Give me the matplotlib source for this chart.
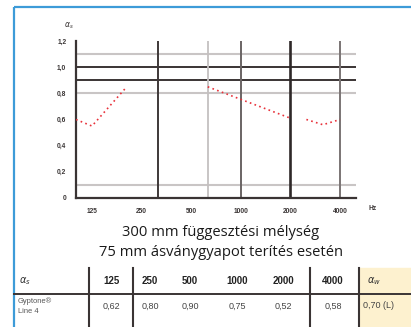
import matplotlib

matplotlib.use("Agg")
import matplotlib.pyplot as plt
from matplotlib.patches import Rectangle

# curve (Hz, alpha_s), three separate pieces
seg1_freq = [100, 125, 200]
seg1_alpha = [0.60, 0.55, 0.84]
seg2_freq = [630, 2000]
seg2_alpha = [0.85, 0.61]
seg3_freq = [2500, 3150, 4000]
seg3_alpha = [0.60, 0.56, 0.60]

x_ticks = [125, 250, 500, 1000, 2000, 4000]
x_tick_labels = ["125", "250", "500", "1000", "2000", "4000"]
y_ticks = [0, 0.2, 0.4, 0.6, 0.8, 1.0, 1.2]
y_tick_labels = ["0", "0,2", "0,4", "0,6", "0,8", "1,0", "1,2"]

# reference lines: (value, dark?)
h_lines = [(1.1, False), (1.0, True), (0.9, True), (0.8, False), (0.1, False)]
v_lines = [(315, "#3e3838", 1.4), (630, "#c4c0c0", 1.3), (1000, "#6a6464", 1.4),
           (2000, "#2e2828", 1.9), (4000, "#7a7474", 1.4)]

caption = ["300 mm függesztési mélység", "75 mm ásványgyapot terítés esetén"]

table_bands = ["125", "250", "500", "1000", "2000", "4000"]
table_values = ["0,62", "0,80", "0,90", "0,75", "0,52", "0,58"]
table_product = "Gyptone®\nLine 4"
table_alpha_w = "0,70 (L)"

W, H = 411, 327
DARK = "#3a3434"
LIGHT = "#c9c5c5"
BLUE = "#3d9bd8"
RED = "#e8313a"

fig = plt.figure(figsize=(W / 100, H / 100), dpi=100)

# background layer in pixel coordinates
bg = fig.add_axes([0, 0, 1, 1])
bg.set_xlim(0, W)
bg.set_ylim(H, 0)
bg.axis("off")

bg.plot([14, 14], [7, H], color=BLUE, lw=1.6, solid_capstyle="butt")
bg.plot([14, W], [7, 7], color=BLUE, lw=1.6, solid_capstyle="butt")

# chart
left, right, top, bottom = 76, 356, 41, 198
ax = fig.add_axes([left / W, 1 - bottom / H, (right - left) / W, (bottom - top) / H])
ax.set_xscale("log", base=2)
ax.set_xlim(100, 5000)
ax.set_ylim(0, 1.2)
ax.patch.set_alpha(0)
for s in ["top", "right"]:
    ax.spines[s].set_visible(False)
for s in ["left", "bottom"]:
    ax.spines[s].set_color(DARK)
    ax.spines[s].set_linewidth(1.6)

for val, dark in h_lines:
    ax.axhline(val, color=DARK if dark else LIGHT, lw=1.4 if dark else 1.5, zorder=1)
for f, c, w in v_lines:
    ax.axvline(f, color=c, lw=w, zorder=1)

for fx, ay in [(seg1_freq, seg1_alpha), (seg2_freq, seg2_alpha), (seg3_freq, seg3_alpha)]:
    ax.plot(fx, ay, color=RED, lw=1.2, linestyle=(0, (1, 2.0)), zorder=3)

ax.set_xticks(x_ticks)
ax.set_xticklabels(x_tick_labels)
ax.minorticks_off()
ax.set_yticks(y_ticks)
ax.set_yticklabels(y_tick_labels)
ax.tick_params(length=0, labelsize=4.8, colors="#3a3535", pad=7)
for t in ax.get_xticklabels() + ax.get_yticklabels():
    t.set_family("Liberation Sans")
    t.set_fontweight("bold")

bg.text(368, 208, "Hz", fontsize=4.8, color="#3a3535", va="center", family="Liberation Sans",
        fontweight="bold")
bg.text(64, 26, r"$\alpha_s$", fontsize=5.5, color="#3a3535", va="center")

# caption
bg.text(221, 233, caption[0], ha="center", va="center", fontsize=10.6, family="Open Sans", color="#1a1a1a")
bg.text(221, 252, caption[1], ha="center", va="center", fontsize=10.6, family="Open Sans", color="#1a1a1a")

# table
bg.add_patch(Rectangle((359, 268), W - 359, H - 268, color="#fdf1cf", zorder=0))
bg.plot([14, W], [294, 294], color=DARK, lw=1.4)
for xv in [89, 133, 310, 359]:
    bg.plot([xv, xv], [268, H], color=DARK, lw=1.5)

band_x = [111, 150, 190, 237, 283, 333]
for bx, band, val in zip(band_x, table_bands, table_values):
    bg.text(bx, 281, band, ha="center", va="center", fontsize=7, family="Liberation Sans",
            color="#222", fontweight="bold")
    bg.text(bx, 306, val, ha="center", va="center", fontsize=6.5, family="Liberation Sans", color="#444")
bg.text(19, 281, r"$\alpha_s$", ha="left", va="center", fontsize=7, color="#333")
bg.text(374, 281, r"$\alpha_w$", ha="center", va="center", fontsize=7, color="#333")
bg.text(18, 306, table_product, ha="left", va="center", fontsize=5.4, family="Liberation Sans",
        color="#555", linespacing=1.5)
bg.text(363, 306, table_alpha_w, ha="left", va="center", fontsize=6.5, family="Liberation Sans", color="#444")

fig.savefig("out.png", dpi=100)
